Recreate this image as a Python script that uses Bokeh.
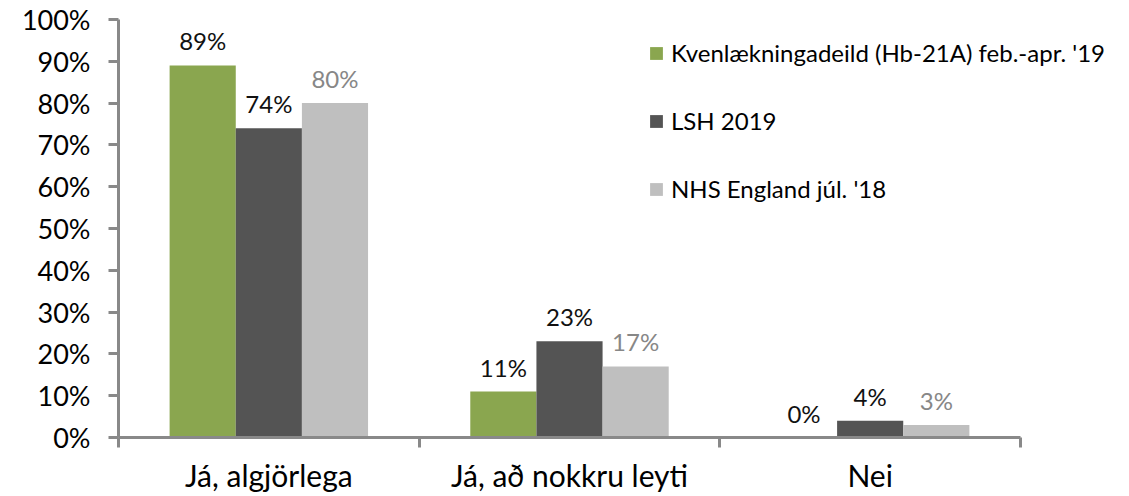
from bokeh.plotting import figure
from bokeh.models import (ColumnDataSource, Range1d, LinearAxis,
                          FixedTicker, NumeralTickFormatter, Legend, LegendItem)
from bokeh.transform import dodge
from bokeh.core.properties import value
from bokeh.embed import file_html
from bokeh.resources import INLINE

categories = ["Já, algjörlega", "Já, að nokkru leyti", "Nei"]
series_names = ["Kvenlækningadeild (Hb-21A) feb.-apr. '19", "LSH 2019", "NHS England júl. '18"]
kvenl = [0.89, 0.11, 0.00]
lsh = [0.74, 0.23, 0.04]
nhs = [0.80, 0.17, 0.03]
y_ticks = [0.0, 0.1, 0.2, 0.3, 0.4, 0.5, 0.6, 0.7, 0.8, 0.9, 1.0]

colors = ["#8AA64F", "#545454", "#BFBFBF"]
label_colors = ["#111111", "#111111", "#878787"]
FONT = "Lato"
AXIS_GRAY = "#898989"

# layout: frame extends right of the x axis so the legend fits
FRAME_W = 997
FRAME_H = 418
PX_PER_CAT = 300.67
x_end = FRAME_W / PX_PER_CAT


def pct(vals):
    return [f"{round(v * 100)}%" for v in vals]


n = len(categories)
centers = [i + 0.5 for i in range(n)]
src = ColumnDataSource(dict(
    xc=centers, kvenl=kvenl, lsh=lsh, nhs=nhs,
    kvenl_lbl=pct(kvenl), lsh_lbl=pct(lsh), nhs_lbl=pct(nhs),
))

p = figure(frame_width=FRAME_W, frame_height=FRAME_H,
           x_range=Range1d(0, x_end),
           y_range=Range1d(0, 1),
           output_backend="svg", toolbar_location=None,
           x_axis_location=None, y_axis_location=None,
           min_border_left=118, min_border_right=0,
           min_border_top=19, min_border_bottom=0)
p.outline_line_color = None
p.xgrid.grid_line_color = None
p.ygrid.grid_line_color = None
p.background_fill_color = "white"
p.border_fill_color = "white"

# y axis
yaxis = LinearAxis(ticker=FixedTicker(ticks=y_ticks),
                   formatter=NumeralTickFormatter(format="0%"))
yaxis.axis_line_color = AXIS_GRAY
yaxis.axis_line_width = 3
yaxis.major_tick_line_color = AXIS_GRAY
yaxis.major_tick_line_width = 3
yaxis.major_tick_in = 0
yaxis.major_tick_out = 10
yaxis.minor_tick_line_color = None
yaxis.major_label_text_font = FONT
yaxis.major_label_text_font_size = "27px"
yaxis.major_label_text_color = "#000000"
yaxis.major_label_standoff = 18
p.add_layout(yaxis, "left")

# x axis: separator ticks between categories
sep_axis = LinearAxis(ticker=FixedTicker(ticks=list(range(n + 1))),
                      bounds=(0, n),
                      major_label_overrides={i: "" for i in range(n + 1)})
sep_axis.axis_line_color = AXIS_GRAY
sep_axis.axis_line_width = 3
sep_axis.major_tick_line_color = AXIS_GRAY
sep_axis.major_tick_line_width = 3
sep_axis.major_tick_in = 0
sep_axis.major_tick_out = 10
sep_axis.minor_tick_line_color = None
sep_axis.major_label_text_font_size = "1px"
sep_axis.major_label_standoff = 0
p.add_layout(sep_axis, "below")

# x axis: category labels at the centres
cat_axis = LinearAxis(ticker=FixedTicker(ticks=centers),
                      major_label_overrides={c: name for c, name in zip(centers, categories)})
cat_axis.axis_line_color = None
cat_axis.major_tick_line_color = None
cat_axis.minor_tick_line_color = None
cat_axis.major_label_text_font = FONT
cat_axis.major_label_text_font_size = "30px"
cat_axis.major_label_text_color = "#000000"
cat_axis.major_label_standoff = 3
p.add_layout(cat_axis, "below")

offsets = [-0.22, 0.0, 0.22]
fields = ["kvenl", "lsh", "nhs"]
renderers = []
for f, off, c, lc in zip(fields, offsets, colors, label_colors):
    r = p.vbar(x=dodge("xc", off), top=f, width=0.22,
               source=src, fill_color=c, line_color=None)
    renderers.append(r)
    p.text(x=dodge("xc", off), y=f, text=f + "_lbl", source=src,
           text_align="center", text_baseline="bottom", y_offset=-10,
           text_font=value(FONT), text_font_size=value("24px"), text_color=lc)

legend = Legend(items=[LegendItem(label=s, renderers=[r]) for s, r in zip(series_names, renderers)],
                location=(530, 234))
legend.glyph_width = 16
legend.glyph_height = 16
legend.label_text_font = FONT
legend.label_text_font_size = "24px"
legend.label_text_color = "#000000"
legend.label_standoff = 7
legend.padding = 0
legend.margin = 0
legend.spacing = 39
legend.border_line_color = None
legend.background_fill_alpha = 0
p.add_layout(legend)

open("out.html", "w").write(file_html(p, INLINE))
